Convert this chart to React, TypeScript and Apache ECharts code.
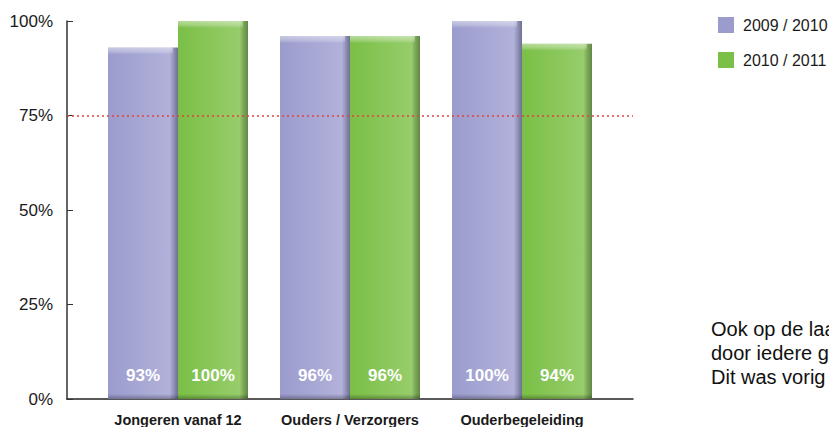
import React, { useEffect, useRef } from "react";
import * as echarts from "echarts";

const categories = ["Jongeren vanaf 12", "Ouders / Verzorgers", "Ouderbegeleiding"];
const seriesNames = ["2009 / 2010", "2010 / 2011"];
const values2009 = [93, 96, 100];
const values2010 = [100, 96, 94];
const referenceValue = 75;
const yTicks = [0, 25, 50, 75, 100];
const noteLines = ["Ook op de laa", "door iedere g", "Dit was vorig"];

const FONT = "'Liberation Sans', Arial, sans-serif";
const BAR_WIDTH = 70;

function barGradient(c0: string, c1: string, c2: string, c3: string) {
  return new echarts.graphic.LinearGradient(0, 0, 1, 0, [
    { offset: 0, color: c0 },
    { offset: 0.88, color: c1 },
    { offset: 0.93, color: c2 },
    { offset: 1, color: c3 },
  ]);
}

export default function App() {
  const ref = useRef<HTMLDivElement>(null);
  useEffect(() => {
    if (!ref.current) return;
    const chart = echarts.init(ref.current, null, { renderer: "svg" });
    const purple = barGradient("#9b9ccd", "#b1b1da", "#9797bf", "#6e6f93");
    const green = barGradient("#7abf46", "#97cd6b", "#7fa95a", "#5e8944");
    const label = {
      show: true,
      position: "insideBottom",
      distance: 15,
      color: "#ffffff",
      fontSize: 17,
      fontWeight: "bold",
      fontFamily: FONT,
      formatter: (p: any) => p.value + "%",
    };
    const shadeData: number[][] = [];
    categories.forEach((_, i) => {
      shadeData.push([i, values2009[i], 0]);
      shadeData.push([i, values2010[i], 1]);
    });
    chart.setOption({
      animation: false,
      backgroundColor: "#ffffff",
      textStyle: { fontFamily: FONT },
      grid: [
        { left: 67, right: 204, top: 21, bottom: 36 },
        { left: 92, right: 229, top: 21, bottom: 36 },
      ],
      xAxis: [
        {
          type: "category",
          gridIndex: 0,
          data: categories,
          axisLine: { show: true, lineStyle: { color: "#222", width: 1.5 } },
          axisTick: { show: false },
          axisLabel: { show: false },
        },
        {
          type: "category",
          gridIndex: 1,
          data: categories,
          axisLine: { show: false },
          axisTick: { show: false },
          axisLabel: {
            interval: 0,
            color: "#1a1a1a",
            fontSize: 14.5,
            fontWeight: "bold",
            fontFamily: FONT,
            margin: 13,
          },
        },
      ],
      yAxis: [
        {
          type: "value",
          gridIndex: 0,
          min: yTicks[0],
          max: yTicks[yTicks.length - 1],
          interval: 25,
          axisLine: { show: true, lineStyle: { color: "#333", width: 1.5 } },
          axisTick: { show: true, inside: true, length: 6, lineStyle: { color: "#333" } },
          splitLine: { show: false },
          axisLabel: {
            color: "#1a1a1a",
            fontSize: 17,
            fontFamily: FONT,
            margin: 14,
            formatter: (v: number) => v + "%",
          },
        },
        {
          type: "value",
          gridIndex: 1,
          min: 0,
          max: 100,
          show: false,
        },
      ],
      legend: {
        orient: "vertical",
        left: 713,
        top: 12,
        itemWidth: 16,
        itemHeight: 16,
        itemGap: 19,
        icon: "rect",
        textStyle: { fontSize: 16, color: "#1a1a1a", fontFamily: FONT, padding: [0, 0, 0, 4] },
        data: [
          { name: seriesNames[0], itemStyle: { color: "#9b9ccd" } },
          { name: seriesNames[1], itemStyle: { color: "#7abf46" } },
        ],
      },
      series: [
        {
          name: "ref",
          type: "line",
          xAxisIndex: 0,
          yAxisIndex: 0,
          data: [],
          markLine: {
            silent: true,
            symbol: "none",
            label: { show: false },
            lineStyle: { type: [2, 3], color: "#e8403c", width: 1.5 },
            data: [{ yAxis: referenceValue }],
          },
        },
        {
          name: seriesNames[0],
          type: "bar",
          xAxisIndex: 1,
          yAxisIndex: 1,
          data: values2009,
          barWidth: BAR_WIDTH,
          barGap: "0%",
          itemStyle: { color: purple },
          label,
          z: 3,
        },
        {
          name: seriesNames[1],
          type: "bar",
          xAxisIndex: 1,
          yAxisIndex: 1,
          data: values2010,
          barWidth: BAR_WIDTH,
          barGap: "0%",
          itemStyle: { color: green },
          label,
          z: 3,
        },
        {
          name: "shade",
          type: "custom",
          xAxisIndex: 1,
          yAxisIndex: 1,
          silent: true,
          z: 4,
          data: shadeData,
          renderItem: (params: any, api: any) => {
            const idx = api.value(0);
            const val = api.value(1);
            const s = api.value(2);
            const top = api.coord([idx, val]);
            const base = api.coord([idx, 0]);
            const x = top[0] + (s === 0 ? -BAR_WIDTH : 0);
            const w = BAR_WIDTH - 5;
            return {
              type: "group",
              children: [
                {
                  type: "rect",
                  shape: { x: x, y: top[1], width: w, height: 7 },
                  style: {
                    fill: new echarts.graphic.LinearGradient(0, 0, 0, 1, [
                      { offset: 0, color: "rgba(255,255,255,0.45)" },
                      { offset: 0.6, color: "rgba(255,255,255,0.25)" },
                      { offset: 1, color: "rgba(255,255,255,0)" },
                    ]),
                  },
                },
                {
                  type: "rect",
                  shape: { x: x, y: base[1] - 5, width: BAR_WIDTH, height: 5 },
                  style: {
                    fill: new echarts.graphic.LinearGradient(0, 0, 0, 1, [
                      { offset: 0, color: "rgba(0,0,0,0)" },
                      { offset: 1, color: "rgba(0,0,0,0.3)" },
                    ]),
                  },
                },
              ],
            };
          },
        },
      ],
      graphic: [
        {
          type: "text",
          left: 711,
          top: 317,
          style: {
            text: noteLines.join("\n"),
            fontSize: 20,
            lineHeight: 24,
            fill: "#111",
            fontFamily: FONT,
          },
        },
      ],
    });
    return () => chart.dispose();
  }, []);
  return <div ref={ref} style={{ width: 837, height: 435, margin: -8 }} />;
}
